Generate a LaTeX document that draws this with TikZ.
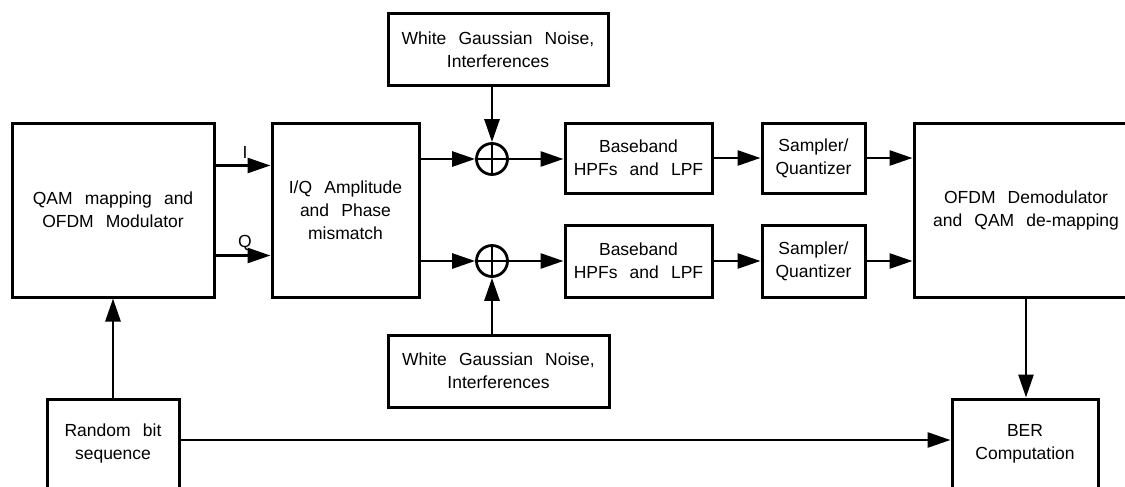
\documentclass[tikz,border=0pt]{standalone}
\usepackage{fontspec}
\setmainfont[WordSpace=2.5]{Liberation Sans}
\usetikzlibrary{arrows.meta}
\begin{document}
\begin{tikzpicture}[x=1pt,y=-1pt,
  box/.style={draw, line width=3pt, inner sep=0pt, align=center, font=\fontsize{17.5}{23}\selectfont},
  conn/.style={line width=2.8pt, -{Triangle[length=23pt,width=15pt]}},
  sumnode/.style={draw, circle, line width=2.8pt, minimum size=31pt, inner sep=0pt},
  lbl/.style={font=\fontsize{17.5}{20}\selectfont, inner sep=0pt}
]
\useasboundingbox (0,0) rectangle (1125,487);
\clip (0,0) rectangle (1125,487);
% blocks
\node[box, minimum width=202pt, minimum height=174pt] (qam) at (113,210) {QAM mapping and\\OFDM Modulator};
\node[box, minimum width=147pt, minimum height=174pt] (iq) at (345.5,210) {I/Q Amplitude\\and Phase\\mismatch};
\node[box, minimum width=220pt, minimum height=72pt] (wgn1) at (498,50) {White Gaussian Noise,\\Interferences};
\node[box, minimum width=221pt, minimum height=72pt] (wgn2) at (498.5,371) {White Gaussian Noise,\\Interferences};
\node[sumnode] (s1) at (492,159) {};
\node[sumnode] (s2) at (492,261) {};
\node[box, minimum width=147pt, minimum height=70pt] (bb1) at (638.5,158) {Baseband\\HPFs and LPF};
\node[box, minimum width=147pt, minimum height=72pt] (bb2) at (638.5,261) {Baseband\\HPFs and LPF};
\node[box, minimum width=103pt, minimum height=70pt] (sq1) at (813.5,158) {Sampler/\\Quantizer};
\node[box, minimum width=103pt, minimum height=72pt] (sq2) at (813.5,261) {Sampler/\\Quantizer};
\node[box, minimum width=224pt, minimum height=174pt] (ofdm) at (1026,210) {OFDM Demodulator\\and QAM de-mapping};
\node[box, minimum width=132pt, minimum height=89pt] (rand) at (113,443.5) {Random bit\\sequence};
\node[box, minimum width=146pt, minimum height=89pt] (ber) at (1025,443.5) {BER\\Computation};
% plus signs in summing nodes
\draw[line width=2.2pt] (s1.north) -- (s1.south) (s1.west) -- (s1.east);
\draw[line width=2.2pt] (s2.north) -- (s2.south) (s2.west) -- (s2.east);
% labels
\node[lbl] (ilbl) at (245,152) {I};
\node[lbl] (qlbl) at (245,243) {Q};
% connectors
\draw[conn] (rand.north) -- (qam.south);
\draw[conn] ([yshift=-44pt]qam.north east) -- ([yshift=-44pt]iq.north west);
\draw[conn] ([yshift=43pt]qam.south east) -- ([yshift=43pt]iq.south west);
\draw[conn] (iq.east |- s1) -- (s1.west);
\draw[conn] (s1 |- wgn1.south) -- (s1.north);
\draw[conn] (s1.east) -- (bb1.west |- s1);
\draw[conn] (bb1.east) -- (sq1.west);
\draw[conn] (sq1.east) -- (ofdm.west |- sq1);
\draw[conn] (iq.east |- s2) -- (s2.west);
\draw[conn] (s2 |- wgn2.north) -- (s2.south);
\draw[conn] (s2.east) -- (bb2.west);
\draw[conn] (bb2.east) -- (sq2.west);
\draw[conn] (sq2.east) -- (ofdm.west |- sq2);
\draw[conn] (ofdm.south) -- (ber.north -| ofdm.south);
\draw[conn] ([yshift=3.5pt]rand.east) -- ([yshift=3.5pt]ber.west);
\end{tikzpicture}
\end{document}
